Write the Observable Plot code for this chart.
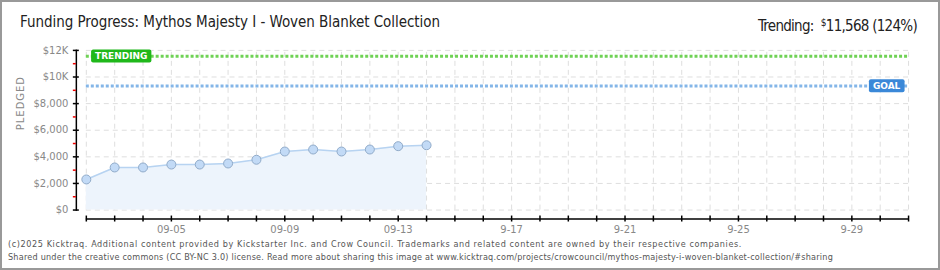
<!DOCTYPE html>
<html><head><meta charset="utf-8">
<script src="https://cdn.jsdelivr.net/npm/d3@7"></script>
<script src="https://cdn.jsdelivr.net/npm/@observablehq/plot@0.6"></script>
<style>
body{margin:0;background:#fff}
#wrap{position:relative;width:940px;height:270px;box-sizing:border-box;border:2px solid #999;overflow:hidden;background:#fff}
#chart{position:absolute;left:-2px;top:-2px}
.hd{position:absolute;top:13px;font:15px "DejaVu Sans Condensed","DejaVu Sans",sans-serif;line-height:15px;color:#222;white-space:nowrap}
#title{left:18px}
#trend{right:21px}
#trend .cur{font-size:10px;vertical-align:5px}
.ft{position:absolute;left:6px;font:9px "DejaVu Sans Condensed","DejaVu Sans",sans-serif;line-height:13px;color:#555;white-space:nowrap}
</style></head>
<body>
<div id="wrap">
  <div id="chart"></div>
  <div id="title" class="hd" data-w="420">Funding Progress: Mythos Majesty I - Woven Blanket Collection</div>
  <div id="trend" class="hd" data-w="159">Trending:&nbsp; <span class="cur">$</span>11,568 (124%)</div>
  <div class="ft" style="top:236px" data-w="734">(c)2025 Kicktraq. Additional content provided by Kickstarter Inc. and Crow Council. Trademarks and related content are owned by their respective companies.</div>
  <div class="ft" style="top:249px" data-w="825">Shared under the creative commons (CC BY-NC 3.0) license. Read more about sharing this image at www.kicktraq.com/projects/crowcouncil/mythos-majesty-i-woven-blanket-collection/#sharing</div>
</div>
<script>
const dates = ["2025-09-02","2025-09-03","2025-09-04","2025-09-05","2025-09-06","2025-09-07","2025-09-08","2025-09-09","2025-09-10","2025-09-11","2025-09-12","2025-09-13","2025-09-14"];
const pledged = [2300, 3200, 3200, 3420, 3420, 3500, 3780, 4400, 4550, 4400, 4550, 4800, 4870];
const goal = 9330;
const trending = 11568;
const xStart = "2025-09-02", xEnd = "2025-10-01";
const xLabelDates = ["2025-09-05","2025-09-09","2025-09-13","2025-09-17","2025-09-21","2025-09-25","2025-09-29"];
const xLabels = ["09-05","09-09","09-13","9-17","9-21","9-25","9-29"];
const yTicks = [0, 2000, 4000, 6000, 8000, 10000, 12000];
const yTickLabels = ["$0","$2,000","$4,000","$6,000","$8,000","$10K","$12K"];
const yMinor = [1000, 3000, 5000, 7000, 9000, 11000];

const parse = d3.utcParse("%Y-%m-%d");
const start = parse(xStart), end = parse(xEnd);
const days = d3.utcDay.range(start, d3.utcDay.offset(end, 1));
const data = dates.map((d, i) => ({date: parse(d), value: pledged[i]}));
const labelDates = xLabelDates.map(parse);
const grid = {stroke: "#dedede", strokeDasharray: "5,4", strokeWidth: 1};

const svg = Plot.plot({
  width: 940, height: 270,
  marginTop: 50, marginBottom: 60, marginLeft: 76, marginRight: 30,
  x: {type: "utc", domain: [start, end], range: [86, 910]},
  y: {domain: [0, 12000]},
  style: {fontFamily: "'DejaVu Sans', sans-serif", fontSize: "10px", background: "transparent", overflow: "visible"},
  marks: [
    Plot.ruleY(yTicks, {y: d => d, x1: () => start, x2: () => end, ...grid}),
    Plot.ruleX(days, {x: d => d, y1: () => 0, y2: () => 12000, ...grid}),
    Plot.areaY(data, {x: "date", y: "value", fill: "#edf4fc"}),
    Plot.lineY(data, {x: "date", y: "value", stroke: "#b7d3f1", strokeWidth: 1.5}),
    Plot.dot(data, {x: "date", y: "value", r: 4.5, fill: "#c2daf6", stroke: "#90aac8", strokeWidth: 1}),
    Plot.ruleY([trending], {y: d => d, x1: () => start, x2: () => end, stroke: "#6fd255", strokeWidth: 3, strokeDasharray: "3,2"}),
    Plot.ruleY([goal], {y: d => d, x1: () => start, x2: () => end, stroke: "#84b6e8", strokeWidth: 3, strokeDasharray: "3,2"}),
    Plot.text([trending], {x: () => start, y: d => d, text: () => "TRENDING", dx: 35, fill: "white", fontWeight: "bold", fontSize: 9}),
    Plot.text([goal], {x: () => end, y: d => d, text: () => "GOAL", dx: -22, fill: "white", fontWeight: "bold", fontSize: 9}),
    Plot.frame({anchor: "left", stroke: "#000", strokeWidth: 1.5}),
    Plot.axisY({ticks: yMinor, tickSize: 3, tickFormat: () => "", label: null, stroke: "#e00", strokeWidth: 1.5}),
    Plot.axisY({ticks: yTicks, tickSize: 6, dx: 3, tickPadding: 5, label: null, tickFormat: d => yTickLabels[yTicks.indexOf(d)], stroke: "#000", fill: "#888", strokeWidth: 1.5}),
    Plot.ruleY([0], {y: d => d, x1: () => start, x2: () => end, dy: 9, stroke: "#000", strokeWidth: 1.5}),
    Plot.axisX({ticks: days, tickSize: 6, dy: 6, label: null, tickFormat: () => "", stroke: "#000", strokeWidth: 1.5}),
    Plot.axisX({ticks: labelDates, tickSize: 0, tickPadding: 16, label: null, tickFormat: d => xLabels[labelDates.findIndex(t => +t === +d)], fill: "#888"}),
    Plot.text(["PLEDGED"], {frameAnchor: "left", text: d => d, rotate: -90, dx: -56, fill: "#888", fontSize: 10})
  ]
});
document.getElementById("chart").appendChild(svg);

// label boxes behind the TRENDING / GOAL tags
const boxColors = {"TRENDING": "#1fb81a", "GOAL": "#3a88d8"};
d3.select(svg).selectAll("text").each(function() {
  const t = this.textContent;
  if (!(t in boxColors)) return;
  const b = this.getBBox();
  const ctm = this.getAttribute("transform");
  const r = document.createElementNS("http://www.w3.org/2000/svg", "rect");
  r.setAttribute("x", b.x - 4); r.setAttribute("y", b.y - 1.5);
  r.setAttribute("width", b.width + 8); r.setAttribute("height", b.height + 3);
  r.setAttribute("rx", 2); r.setAttribute("fill", boxColors[t]);
  if (ctm) r.setAttribute("transform", ctm);
  this.parentNode.insertBefore(r, this);
});
d3.select(svg).selectAll("text").filter(function(){ return this.textContent === "PLEDGED"; }).attr("letter-spacing", "1px");

// fit header/footer text widths
document.querySelectorAll("[data-w]").forEach(el => {
  const target = +el.dataset.w;
  const w = el.getBoundingClientRect().width;
  const n = el.textContent.length;
  el.style.letterSpacing = ((target - w) / n) + "px";
});
</script>
</body></html>
